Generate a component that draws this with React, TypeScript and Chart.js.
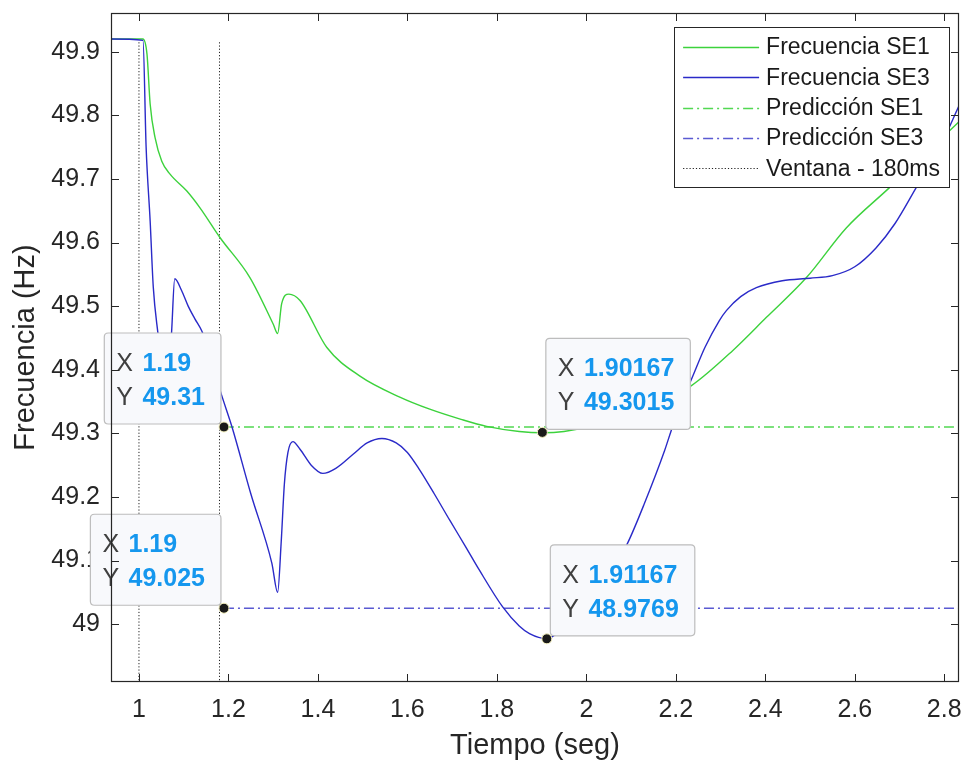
import React, { useEffect, useRef } from "react";
import { Chart, registerables } from "chart.js";

Chart.register(...registerables);

// ---------- data ----------
const xTicks = [1, 1.2, 1.4, 1.6, 1.8, 2, 2.2, 2.4, 2.6, 2.8];
const yTicks = [49, 49.1, 49.2, 49.3, 49.4, 49.5, 49.6, 49.7, 49.8, 49.9];
const xMin = 0.9375;
const xMax = 2.833;
const yMin = 48.909;
const yMax = 49.961;

const se1Time = [
  0.9375, 1.009, 1.018, 1.025, 1.036, 1.051, 1.069, 1.107, 1.136, 1.181, 1.248, 1.3, 1.31,
  1.319, 1.335, 1.36, 1.42, 1.494, 1.583, 1.65, 1.72, 1.777, 1.85, 1.902, 1.95, 2.0, 2.1,
  2.2, 2.235, 2.327, 2.402, 2.492, 2.581, 2.677, 2.75, 2.833,
];
const se1Freq = [
  49.92, 49.92, 49.896, 49.818, 49.765, 49.728, 49.708, 49.681, 49.655, 49.608, 49.545, 49.472,
  49.457, 49.504, 49.519, 49.509, 49.435, 49.39, 49.357, 49.338, 49.322, 49.311, 49.303, 49.301,
  49.303, 49.31, 49.335, 49.362, 49.375, 49.43, 49.482, 49.545, 49.623, 49.686, 49.735, 49.79,
];

const se3Time = [
  0.9375, 1.009, 1.016, 1.025, 1.032, 1.042, 1.052, 1.068, 1.073, 1.08, 1.095, 1.11, 1.125,
  1.141, 1.16, 1.183, 1.208, 1.25, 1.297, 1.31, 1.318, 1.325, 1.333, 1.344, 1.36, 1.385, 1.411,
  1.44, 1.48, 1.51, 1.543, 1.575, 1.6, 1.627, 1.66, 1.695, 1.73, 1.76, 1.813, 1.85, 1.873,
  1.911, 1.95, 2.0, 2.05, 2.092, 2.13, 2.175, 2.19, 2.21, 2.235, 2.265, 2.297, 2.313, 2.345,
  2.38, 2.438, 2.5, 2.55, 2.6, 2.648, 2.69, 2.737, 2.79, 2.833,
];
const se3Freq = [
  49.92, 49.918, 49.75, 49.634, 49.53, 49.46, 49.41, 49.4, 49.46, 49.543, 49.525, 49.5, 49.48,
  49.46, 49.42, 49.364, 49.31, 49.205, 49.096, 49.05, 49.13, 49.22, 49.27, 49.287, 49.275, 49.25,
  49.237, 49.245, 49.268, 49.285, 49.292, 49.285, 49.27, 49.243, 49.205, 49.163, 49.122, 49.086,
  49.027, 48.997, 48.985, 48.977, 48.995, 49.03, 49.075, 49.127, 49.19, 49.273, 49.305, 49.345,
  49.385, 49.435, 49.477, 49.493, 49.515, 49.529, 49.54, 49.544, 49.548, 49.562, 49.592, 49.63,
  49.686, 49.75, 49.815,
];

const predStart = 1.19;
const predEnd = 2.833;
const predSE1 = 49.31;
const predSE3 = 49.025;

const windowStart = 1.0;
const windowEnd = 1.18;
const windowTop = 49.915;
const windowBottom = 48.88;

const tipX = [1.19, 1.19, 1.90167, 1.91167];
const tipY = [49.31, 49.025, 49.3015, 48.9769];

const seriesLabels = [
  "Frecuencia SE1",
  "Frecuencia SE3",
  "Predicción SE1",
  "Predicción SE3",
  "Ventana - 180ms",
];

// ---------- styles ----------
const FONT = "'Liberation Sans', Arial, Helvetica, sans-serif";
const AXIS_COLOR = "#262626";
const GREEN = "#3cd23c";
const BLUE = "#2a2ac8";
const GREEN_PRED = "#52d852";
const BLUE_PRED = "#5a5ad2";
const DASH_DOT = [10, 4, 2, 4];

const overlayPlugin = {
  id: "matlabOverlay",
  beforeDatasetDraw(chart: any, args: any) {
    if (args.index !== 5) return;
    const ctx = chart.ctx;
    const xs = chart.scales.x;
    const ys = chart.scales.y;
    tipX.forEach((tx, i) => {
      const px = xs.getPixelForValue(tx);
      const py = ys.getPixelForValue(tipY[i]);
      const xs1 = String(tx);
      const ys1 = String(tipY[i]);
      ctx.save();
      ctx.font = `25px ${FONT}`;
      const wX = ctx.measureText("X ").width;
      const wY = ctx.measureText("Y ").width;
      ctx.font = `bold 25px ${FONT}`;
      const wv = Math.max(wX + ctx.measureText(xs1).width, wY + ctx.measureText(ys1).width);
      const w = 12 + wv + 2.5 + 16;
      const h = 91;
      const left = px < chart.chartArea.left + 300 ? px - 3 - w : px + 3.5;
      const top = py - 3 - h;
      ctx.beginPath();
      const r = 4;
      ctx.moveTo(left + r, top);
      ctx.lineTo(left + w - r, top);
      ctx.quadraticCurveTo(left + w, top, left + w, top + r);
      ctx.lineTo(left + w, top + h - r);
      ctx.quadraticCurveTo(left + w, top + h, left + w - r, top + h);
      ctx.lineTo(left + r, top + h);
      ctx.quadraticCurveTo(left, top + h, left, top + h - r);
      ctx.lineTo(left, top + r);
      ctx.quadraticCurveTo(left, top, left + r, top);
      ctx.closePath();
      ctx.fillStyle = "#f8f9fc";
      ctx.fill();
      ctx.lineWidth = 1.2;
      ctx.strokeStyle = "#bdbdbd";
      ctx.stroke();
      ctx.textBaseline = "alphabetic";
      ctx.textAlign = "left";
      ctx.font = `25px ${FONT}`;
      ctx.fillStyle = "#404040";
      ctx.fillText("X", left + 12, top + 38);
      ctx.fillText("Y", left + 12, top + 72);
      ctx.font = `bold 25px ${FONT}`;
      ctx.fillStyle = "#1597ee";
      ctx.fillText(xs1, left + 12 + wX + 2.5, top + 38);
      ctx.fillText(ys1, left + 12 + wY + 2.5, top + 72);
      ctx.restore();
    });
  },
  afterDatasetsDraw(chart: any) {
    const ctx = chart.ctx;
    const ca = chart.chartArea;
    const xs = chart.scales.x;
    const ys = chart.scales.y;
    ctx.save();
    ctx.strokeStyle = AXIS_COLOR;
    ctx.lineWidth = 1.2;
    ctx.strokeRect(ca.left + 0.5, ca.top + 0.5, ca.right - ca.left - 1, ca.bottom - ca.top - 1);
    const tl = 8;
    ctx.lineWidth = 1;
    ctx.beginPath();
    xTicks.forEach((v) => {
      const p = Math.round(xs.getPixelForValue(v)) + 0.5;
      ctx.moveTo(p, ca.bottom);
      ctx.lineTo(p, ca.bottom - tl);
      ctx.moveTo(p, ca.top);
      ctx.lineTo(p, ca.top + tl);
    });
    yTicks.forEach((v) => {
      const p = Math.round(ys.getPixelForValue(v)) + 0.5;
      ctx.moveTo(ca.left, p);
      ctx.lineTo(ca.left + tl, p);
      ctx.moveTo(ca.right, p);
      ctx.lineTo(ca.right - tl, p);
    });
    ctx.stroke();

    // legend
    ctx.font = `23px ${FONT}`;
    const tw = Math.max(...seriesLabels.map((s) => ctx.measureText(s).width));
    const lx1 = ca.right - 10;
    const lw = 92 + tw + 9;
    const lx0 = lx1 - lw;
    const ly0 = ca.top + 14;
    const lh = 160;
    ctx.fillStyle = "#ffffff";
    ctx.fillRect(lx0, ly0, lw, lh);
    ctx.strokeStyle = AXIS_COLOR;
    ctx.lineWidth = 1;
    ctx.strokeRect(Math.round(lx0) + 0.5, ly0 + 0.5, Math.round(lw), lh);
    chart.data.datasets.slice(0, 5).forEach((ds: any, i: number) => {
      const y = ly0 + 20 + i * 30.3;
      ctx.save();
      ctx.strokeStyle = ds.borderColor;
      ctx.lineWidth = ds.borderWidth;
      ctx.setLineDash(ds.borderDash || []);
      ctx.beginPath();
      ctx.moveTo(lx0 + 9, Math.round(y) + 0.5);
      ctx.lineTo(lx0 + 85, Math.round(y) + 0.5);
      ctx.stroke();
      ctx.restore();
      ctx.fillStyle = "#1a1a1a";
      ctx.textBaseline = "middle";
      ctx.textAlign = "left";
      ctx.fillText(ds.label, lx0 + 92, y + 1);
    });
    ctx.restore();
  },
};

export default function App() {
  const canvasRef = useRef<HTMLCanvasElement | null>(null);

  useEffect(() => {
    if (!canvasRef.current) return;
    const lineBase = {
      pointRadius: 0,
      pointHoverRadius: 0,
      fill: false,
      borderWidth: 1.4,
    };
    const noPad = (scale: any) => {
      scale.paddingLeft = 0;
      scale.paddingRight = 0;
      scale.paddingTop = 0;
      scale.paddingBottom = 0;
    };
    const chart = new Chart(canvasRef.current, {
      type: "line",
      data: {
        datasets: [
          {
            ...lineBase,
            label: seriesLabels[0],
            data: se1Time.map((t, i) => ({ x: t, y: se1Freq[i] })),
            borderColor: GREEN,
            cubicInterpolationMode: "monotone",
            order: 4,
          },
          {
            ...lineBase,
            label: seriesLabels[1],
            data: se3Time.map((t, i) => ({ x: t, y: se3Freq[i] })),
            borderColor: BLUE,
            cubicInterpolationMode: "monotone",
            order: 3,
          },
          {
            ...lineBase,
            label: seriesLabels[2],
            data: [
              { x: predStart, y: predSE1 },
              { x: predEnd, y: predSE1 },
            ],
            borderColor: GREEN_PRED,
            borderDash: DASH_DOT,
            order: 5,
          },
          {
            ...lineBase,
            label: seriesLabels[3],
            data: [
              { x: predStart, y: predSE3 },
              { x: predEnd, y: predSE3 },
            ],
            borderColor: BLUE_PRED,
            borderDash: DASH_DOT,
            order: 5,
          },
          {
            ...lineBase,
            label: seriesLabels[4],
            data: [
              { x: windowStart, y: windowTop },
              { x: windowStart, y: windowBottom },
              { x: (windowStart + windowEnd) / 2, y: null },
              { x: windowEnd, y: windowTop },
              { x: windowEnd, y: windowBottom },
            ],
            borderColor: "#222222",
            borderWidth: 1,
            borderDash: [1.2, 2],
            spanGaps: false,
            order: 6,
          },
          {
            label: "tips",
            data: tipX.map((t, i) => ({ x: t, y: tipY[i] })),
            showLine: false,
            pointRadius: 5,
            pointBackgroundColor: "#1a1a1a",
            pointBorderColor: "#f6f2c0",
            pointBorderWidth: 1,
            clip: false as any,
            order: 0,
          },
        ],
      },
      options: {
        animation: false,
        responsive: true,
        maintainAspectRatio: false,
        events: [],
        layout: { padding: { top: 13, right: 5, left: 0, bottom: 0 } },
        plugins: {
          legend: { display: false },
          tooltip: { enabled: false },
        },
        scales: {
          x: {
            type: "linear",
            min: xMin,
            max: xMax,
            grid: { display: false, drawTicks: false },
            border: { display: false },
            afterBuildTicks: (scale: any) => {
              scale.ticks = xTicks.map((v) => ({ value: v }));
            },
            afterFit: (scale: any) => {
              scale.height = 81;
              noPad(scale);
            },
            ticks: {
              autoSkip: false,
              maxRotation: 0,
              padding: 13,
              color: AXIS_COLOR,
              font: { family: FONT, size: 25 },
              callback: (v: any) => String(v),
            },
            title: {
              display: true,
              text: "Tiempo (seg)",
              color: AXIS_COLOR,
              font: { family: FONT, size: 29 },
              padding: { top: 0, bottom: 0 },
            },
          },
          y: {
            type: "linear",
            min: yMin,
            max: yMax,
            grid: { display: false, drawTicks: false },
            border: { display: false },
            afterBuildTicks: (scale: any) => {
              scale.ticks = yTicks.map((v) => ({ value: v }));
            },
            afterFit: (scale: any) => {
              scale.width = 111;
              noPad(scale);
            },
            ticks: {
              autoSkip: false,
              padding: 11,
              color: AXIS_COLOR,
              font: { family: FONT, size: 25 },
              callback: (v: any) => String(v),
            },
            title: {
              display: true,
              text: "Frecuencia (Hz)",
              color: AXIS_COLOR,
              font: { family: FONT, size: 29 },
              padding: { top: 9, bottom: 0 },
            },
          },
        },
      } as any,
      plugins: [overlayPlugin],
    });
    return () => chart.destroy();
  }, []);

  return (
    <div
      style={{
        position: "fixed",
        left: 0,
        top: 0,
        width: 965,
        height: 763,
        background: "#ffffff",
      }}
    >
      <canvas ref={canvasRef} />
    </div>
  );
}
